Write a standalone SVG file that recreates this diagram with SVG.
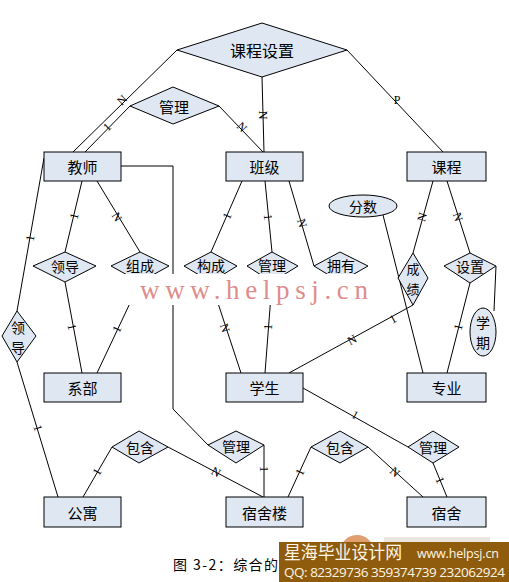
<svg xmlns="http://www.w3.org/2000/svg" width="509" height="582" viewBox="0 0 509 582">
<style>
.ent{fill:#dfe7f3;stroke:#000;stroke-width:1}
.rel{fill:#dfe7f3;stroke:#000;stroke-width:1}
.t{font-family:"Noto Sans CJK SC","Noto Sans",sans-serif;font-size:15px;fill:#000;text-anchor:middle;dominant-baseline:central}
.ts{font-family:"Noto Sans CJK SC","Noto Sans",sans-serif;font-size:14px;fill:#000;text-anchor:middle;dominant-baseline:central}
.c line,.c polyline{stroke:#000;stroke-width:1;fill:none}
.m{font-family:"Liberation Serif",serif;font-size:12px;fill:#000;text-anchor:middle;dominant-baseline:central}
</style>
<rect width="509" height="582" fill="#fff"/>
<g class="c" id="connectors">
<line x1="177" y1="50" x2="73" y2="152"/>
<line x1="130" y1="106" x2="85" y2="152"/>
<line x1="219" y1="106" x2="263" y2="152"/>
<line x1="262" y1="77" x2="264" y2="152"/>
<line x1="347" y1="50" x2="443" y2="152"/>
<polyline points="121,166 173,166 173,409 208,445"/>
<line x1="44" y1="158" x2="17" y2="311"/>
<line x1="17" y1="362" x2="58" y2="497"/>
<line x1="82" y1="181" x2="65" y2="252"/>
<line x1="65" y1="282" x2="82" y2="373"/>
<line x1="97" y1="181" x2="140" y2="252"/>
<line x1="140" y1="282" x2="97" y2="373"/>
<line x1="242" y1="181" x2="211" y2="252"/>
<line x1="211" y1="282" x2="241" y2="373"/>
<line x1="265" y1="181" x2="272" y2="252"/>
<line x1="272" y1="282" x2="265" y2="373"/>
<line x1="289" y1="181" x2="314" y2="266"/>
<line x1="289" y1="373" x2="413" y2="305"/>
<line x1="383" y1="215" x2="423" y2="373"/>
<line x1="433" y1="181" x2="413" y2="253"/>
<line x1="447" y1="181" x2="470" y2="253"/>
<line x1="470" y1="283" x2="447" y2="373"/>
<line x1="496" y1="266" x2="494" y2="311"/>
<line x1="303" y1="388" x2="408" y2="447"/>
<line x1="433" y1="463" x2="447" y2="497"/>
<line x1="112" y1="447" x2="83" y2="497"/>
<line x1="168" y1="447" x2="263" y2="497"/>
<line x1="264" y1="445" x2="264" y2="497"/>
<line x1="311" y1="447" x2="288" y2="497"/>
<line x1="368" y1="447" x2="423" y2="497"/>
<text class="m" transform="translate(122,100) rotate(-44)">N</text>
<text class="m" transform="translate(107,127) rotate(-45)">1</text>
<text class="m" transform="translate(242,127) rotate(46)">N</text>
<text class="m" transform="translate(263,115) rotate(90)">N</text>
<text class="m" transform="translate(397,100)">P</text>
<text class="m" transform="translate(30,238) rotate(-80)">1</text>
<text class="m" transform="translate(38,428) rotate(73)">1</text>
<text class="m" transform="translate(74,216) rotate(-76)">1</text>
<text class="m" transform="translate(72,327) rotate(79)">1</text>
<text class="m" transform="translate(117,217) rotate(59)">N</text>
<text class="m" transform="translate(117,329) rotate(-65)">1</text>
<text class="m" transform="translate(227,216) rotate(-66)">1</text>
<text class="m" transform="translate(225,328) rotate(72)">N</text>
<text class="m" transform="translate(268,217) rotate(84)">1</text>
<text class="m" transform="translate(268,327) rotate(-86)">1</text>
<text class="m" transform="translate(302,223) rotate(74)">N</text>
<text class="m" transform="translate(352,340) rotate(-29)">N</text>
<text class="m" transform="translate(393,319) rotate(-29)">1</text>
<text class="m" transform="translate(422,217) rotate(-74)">N</text>
<text class="m" transform="translate(458,217) rotate(72)">N</text>
<text class="m" transform="translate(458,327) rotate(-76)">1</text>
<text class="m" transform="translate(355,415) rotate(29)">1</text>
<text class="m" transform="translate(440,480) rotate(68)">1</text>
<text class="m" transform="translate(97,472) rotate(-60)">1</text>
<text class="m" transform="translate(216,472) rotate(28)">N</text>
<text class="m" transform="translate(264,469) rotate(90)">1</text>
<text class="m" transform="translate(300,472) rotate(-65)">1</text>
<text class="m" transform="translate(395,472) rotate(42)">N</text>
</g>
<g id="kechengshezhi"><polygon class="rel" points="177,50 262,23 347,50 262,77"/><text class="t" x="262" y="50" style="font-size:16px">课程设置</text></g>
<g id="guanli1"><polygon class="rel" points="130,106 173,87 219,106 173,124"/><text class="t" x="174" y="106">管理</text></g>
<g id="jiaoshi"><rect class="ent" x="44" y="152" width="77" height="29"/><text class="t" x="82.5" y="166.5">教师</text></g>
<g id="banji"><rect class="ent" x="226" y="152" width="77" height="29"/><text class="t" x="264.5" y="166.5">班级</text></g>
<g id="kecheng"><rect class="ent" x="407" y="152" width="79" height="29"/><text class="t" x="446.5" y="166.5">课程</text></g>
<g id="lingdao1"><polygon class="rel" points="33,266 65,252 96,266 65,282"/><text class="ts" x="65" y="266">领导</text></g>
<g id="zucheng"><polygon class="rel" points="111,266 140,252 169,266 140,282"/><text class="ts" x="140" y="265">组成</text></g>
<g id="goucheng"><polygon class="rel" points="184,266 211,252 237,266 211,282"/><text class="ts" x="211" y="265">构成</text></g>
<g id="guanli2"><polygon class="rel" points="247,266 272,252 298,266 272,282"/><text class="ts" x="272" y="265">管理</text></g>
<g id="yongyou"><polygon class="rel" points="314,266 340,252 368,266 340,282"/><text class="ts" x="341" y="265">拥有</text></g>
<g id="fenshu"><ellipse class="rel" cx="363" cy="206" rx="34" ry="11"/><text class="ts" x="363" y="206">分数</text></g>
<g id="chengji"><polygon class="rel" points="398,278 413,253 428,278 413,305"/><text class="ts" x="413" y="268" style="font-size:13px">成</text><text class="ts" x="413" y="288" style="font-size:13px">绩</text></g>
<g id="shezhi"><polygon class="rel" points="444,266 470,253 496,266 470,283"/><text class="ts" x="470" y="266">设置</text></g>
<g id="xueqi"><ellipse class="rel" cx="483" cy="332" rx="13" ry="24"/><text class="ts" x="483" y="322">学</text><text class="ts" x="483" y="342">期</text></g>
<g id="lingdao2"><polygon class="rel" points="2,336 17,311 36,336 17,362"/><text class="ts" x="18" y="327">领</text><text class="ts" x="18" y="347">导</text></g>
<g id="watermark"><rect x="100" y="274" width="275" height="31" fill="#fff"/><text x="140" y="299" textLength="228" lengthAdjust="spacing" style="font-family:'Liberation Serif',serif;font-size:27px;fill:#de8c8c">www.helpsj.cn</text></g>
<g id="xibu"><rect class="ent" x="44" y="373" width="77" height="29"/><text class="t" x="82.5" y="387.5">系部</text></g>
<g id="xuesheng"><rect class="ent" x="226" y="373" width="77" height="29"/><text class="t" x="264.5" y="387.5">学生</text></g>
<g id="zhuanye"><rect class="ent" x="407" y="373" width="79" height="29"/><text class="t" x="446.5" y="387.5">专业</text></g>
<g id="baohan1"><polygon class="rel" points="112,447 139,431 168,447 139,463"/><text class="ts" x="140" y="447">包含</text></g>
<g id="guanli3"><polygon class="rel" points="208,445 236,431 264,445 236,463"/><text class="ts" x="236" y="446">管理</text></g>
<g id="baohan2"><polygon class="rel" points="311,447 340,431 368,447 340,463"/><text class="ts" x="340" y="447">包含</text></g>
<g id="guanli4"><polygon class="rel" points="408,447 433,431 459,447 433,463"/><text class="ts" x="433" y="447">管理</text></g>
<g id="gongyu"><rect class="ent" x="44" y="497" width="77" height="30"/><text class="t" x="82.5" y="512">公寓</text></g>
<g id="sushelou"><rect class="ent" x="226" y="497" width="77" height="30"/><text class="t" x="264.5" y="512">宿舍楼</text></g>
<g id="sushe"><rect class="ent" x="407" y="497" width="79" height="30"/><text class="t" x="446.5" y="512">宿舍</text></g>
<g id="caption"><text x="173" y="570" textLength="105" style="font-family:'Noto Sans CJK SC',sans-serif;font-size:14px;fill:#000">图 3-2：综合的</text></g>
<g id="logo">
<circle cx="357" cy="552" r="17" fill="#d9864a" opacity="0.8"/>
<rect x="384" y="537" width="106" height="5" fill="#ebe6e0"/>
<rect x="279" y="542" width="230" height="40" fill="#8e5c0c"/>
<text x="284" y="559" textLength="118" lengthAdjust="spacingAndGlyphs" style="font-family:'Noto Sans CJK SC',sans-serif;font-size:18px;fill:#fff6e6">星海毕业设计网</text>
<text x="417" y="558" textLength="82" style="font-family:'Open Sans',sans-serif;font-size:12.5px;fill:#fff6e6">www.helpsj.cn</text>
<text x="284" y="577" textLength="221" style="font-family:'Open Sans',sans-serif;font-size:13.5px;fill:#fff6e6">QQ: 82329736  359374739  232062924</text>
</g>
</svg>
